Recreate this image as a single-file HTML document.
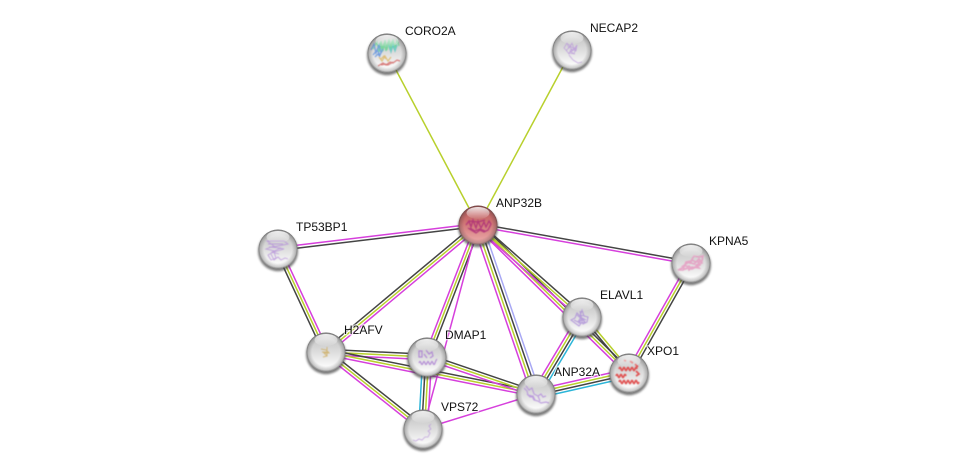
<!DOCTYPE html>
<html><head><meta charset="utf-8"><style>
html,body{margin:0;padding:0;background:#fff;width:976px;height:474px;overflow:hidden}
svg{display:block}
text{font-family:"Liberation Sans",sans-serif;font-size:12px;fill:#111;paint-order:stroke;stroke:rgba(255,255,255,.65);stroke-width:2.5px}
.e use,.e line{stroke-width:1.5;fill:none}
.s{filter:url(#sf);opacity:.8}
</style></head><body>
<svg width="976" height="474" viewBox="0 0 976 474" xmlns="http://www.w3.org/2000/svg">
<defs>
<linearGradient id="gs" x1="0" y1="0" x2="0" y2="1"><stop offset="0" stop-color="#bcbcbc"/><stop offset=".4" stop-color="#d6d6d6"/><stop offset=".88" stop-color="#fafafa"/><stop offset="1" stop-color="#fff"/></linearGradient>
<linearGradient id="rs" x1="0" y1="0" x2="0" y2="1"><stop offset="0" stop-color="#b85a5a"/><stop offset=".4" stop-color="#cc7070"/><stop offset=".88" stop-color="#e8a2a2"/><stop offset="1" stop-color="#eeb0b0"/></linearGradient>
<linearGradient id="gl" x1="0" y1="0" x2="0" y2="1"><stop offset="0" stop-color="#fff" stop-opacity=".85"/><stop offset="1" stop-color="#fff" stop-opacity=".05"/></linearGradient>
<radialGradient id="bt" cx="50%" cy="50%" r="50%"><stop offset=".72" stop-color="#303030" stop-opacity="0"/><stop offset=".92" stop-color="#303030" stop-opacity=".25"/><stop offset="1" stop-color="#303030" stop-opacity=".6"/></radialGradient>
<filter id="bl" x="-30%" y="-30%" width="160%" height="160%"><feGaussianBlur stdDeviation="1"/></filter>
<filter id="sf" x="-20%" y="-20%" width="140%" height="140%"><feGaussianBlur stdDeviation=".45"/></filter>
<g id="sh"><circle cx="0" cy="2.2" r="20" fill="#444" opacity=".7" filter="url(#bl)"/></g>
<g id="gl1"><circle r="19.5" fill="url(#bt)"/><ellipse cx="0" cy="-12" rx="11.5" ry="6" fill="url(#gl)"/></g>
<line id="a" x1="478" y1="225" x2="278" y2="249"/>
<line id="b" x1="478" y1="225" x2="691" y2="263"/>
<line id="c" x1="278" y1="249" x2="326" y2="352"/>
<line id="d" x1="478" y1="225" x2="326" y2="352"/>
<line id="f" x1="478" y1="225" x2="427" y2="357"/>
<line id="g" x1="427" y1="357" x2="423" y2="429"/>
<line id="h" x1="326" y1="352" x2="427" y2="357"/>
<line id="i" x1="326" y1="352" x2="536" y2="394"/>
<line id="j" x1="326" y1="352" x2="423" y2="429"/>
<line id="k" x1="427" y1="357" x2="536" y2="394"/>
<line id="l" x1="478" y1="225" x2="536" y2="394"/>
<line id="m" x1="478" y1="225" x2="582" y2="317"/>
<line id="r" x1="478" y1="225" x2="629" y2="373"/>
<line id="n" x1="582" y1="317" x2="629" y2="373"/>
<line id="o" x1="582" y1="317" x2="536" y2="394"/>
<line id="p" x1="536" y1="394" x2="629" y2="373"/>
<line id="q" x1="691" y1="263" x2="629" y2="373"/>
</defs>
<g class="e">
<line x1="478" y1="225" x2="387" y2="53" stroke="#b8d02c"/>
<line x1="478" y1="225" x2="572" y2="50" stroke="#b8d02c"/>
<use href="#a" x=".17" y="-1.5" stroke="#d63fdc"/><use href="#a" x="-.17" y="1.5" stroke="#444"/>
<use href="#b" x=".25" y="-1.4" stroke="#444"/><use href="#b" x="-.25" y="1.4" stroke="#d63fdc"/>
<use href="#c" x="-2.45" y="1.14" stroke="#444"/><use href="#c" stroke="#b8d02c"/><use href="#c" x="2.45" y="-1.14" stroke="#d63fdc"/>
<use href="#d" x="-1.73" y="-2.07" stroke="#444"/><use href="#d" stroke="#b8d02c"/><use href="#d" x="1.73" y="2.07" stroke="#d63fdc"/>
<use href="#f" x="-2.52" y="-.97" stroke="#d63fdc"/><use href="#f" stroke="#b8d02c"/><use href="#f" x="2.52" y=".97" stroke="#444"/>
<line x1="478" y1="225" x2="423" y2="429" stroke="#d63fdc"/>
<use href="#g" x="-4.3" y="-.2" stroke="#2bb5d8"/><use href="#g" x="-1.3" stroke="#444"/><use href="#g" x="1.6" stroke="#b8d02c"/><use href="#g" x="4.6" y=".2" stroke="#d63fdc"/>
<use href="#h" x=".13" y="-2.7" stroke="#444"/><use href="#h" stroke="#b8d02c"/><use href="#h" x="-.13" y="2.7" stroke="#d63fdc"/>
<use href="#i" x=".53" y="-2.65" stroke="#444"/><use href="#i" stroke="#b8d02c"/><use href="#i" x="-.53" y="2.65" stroke="#d63fdc"/>
<use href="#j" x="1.68" y="-2.11" stroke="#444"/><use href="#j" stroke="#b8d02c"/><use href="#j" x="-1.68" y="2.11" stroke="#d63fdc"/>
<use href="#k" x=".87" y="-2.56" stroke="#444"/><use href="#k" stroke="#b8d02c"/><use href="#k" x="-.87" y="2.56" stroke="#d63fdc"/>
<line x1="423" y1="429" x2="536" y2="394" stroke="#d63fdc"/>
<use href="#l" x="-4.35" y="1.5" stroke="#d63fdc"/><use href="#l" x="-1.51" y=".52" stroke="#b8d02c"/><use href="#l" x="1.32" y="-.46" stroke="#444"/><use href="#l" x="4.16" y="-1.43" stroke="#a8a8f4"/>
<use href="#r" x="-1.89" y="1.93" stroke="#d63fdc"/><use href="#r" stroke="#b8d02c"/><use href="#r" x="1.89" y="-1.93" stroke="#444"/>
<use href="#m" x="1.79" y="-2.02" stroke="#444"/><use href="#m" stroke="#b8d02c"/><use href="#m" x="-1.79" y="2.02" stroke="#d63fdc"/>
<use href="#n" x="2.07" y="-1.74" stroke="#b8d02c"/><use href="#n" stroke="#444"/>
<use href="#o" x="-3.6" y="-2.15" stroke="#d63fdc"/><use href="#o" x="-1.2" y="-.72" stroke="#b8d02c"/><use href="#o" x="1.2" y=".72" stroke="#444"/><use href="#o" x="3.6" y="2.15" stroke="#2bb5d8"/>
<use href="#p" x="-.92" y="-4.1" stroke="#d63fdc"/><use href="#p" x="-.31" y="-1.37" stroke="#b8d02c"/><use href="#p" x=".31" y="1.37" stroke="#444"/><use href="#p" x=".92" y="4.1" stroke="#2bb5d8"/>
<use href="#q" x="-2.35" y="-1.33" stroke="#d63fdc"/><use href="#q" stroke="#b8d02c"/><use href="#q" x="2.35" y="1.33" stroke="#444"/>
</g>

<g transform="translate(387,53)"><use href="#sh"/><circle r="19.5" fill="url(#gs)"/>
<g class="s" fill="none" stroke-width="1.2"><path d="M-14 -4l4-7 2 10 2-11 2 10 2-11 2 10 2-11 2 10 2-10 2 9 2-8 2 6M-9 -3l2-7 2 9 2-9 2 8 2-9 2 8 2-9 2 8" stroke="#62d48e"/><path d="M-16 -3l3-6 2 9 3-8 2 8M-14 2l4-5 3 5 3-6M-12 4l3-3 2 3" stroke="#5a8fe0"/><path d="M-8 4l3 4 3-5 3 5 3-4M-6 6l3-3 2 3" stroke="#dcb45e"/><path d="M-9 13l5-3 3 2 4-3 3 1 4-3 3 1M-6 12l4-1 3 1 5-3" stroke="#d2605e"/><path d="M2 -8l2 7 2-7 2 6 2-6" stroke="#50c8c0"/></g>
<use href="#gl1"/></g>

<g transform="translate(572,50)"><use href="#sh"/><circle r="19.5" fill="url(#gs)"/>
<g class="s" fill="none" stroke="#b894da" stroke-width=".8"><path d="M-8 -2l3-5 2 5 3-5 2 6 3-4-1 6-5-2-2 5-3-4zM-6 1l4-5 2 5 4-3-2 6-4-3M-4 -6l6 5-5 4 6 1M-3 5l4 5 5 3 4-1"/></g>
<use href="#gl1"/></g>

<g transform="translate(478,225)"><use href="#sh"/><circle r="19.5" fill="url(#rs)"/>
<g class="s" fill="none" stroke="#ad2a78" stroke-width="1.3"><path d="M-12 0l3-4 2 6 2-7 3 8 2-7 3 7 3-6 2 5 3-6 2 3-3 6-4 2-4-2-4 3-5-3-3-2M-9 -4l9 1 7-2M-8 3l5 3 5-2 5 2"/></g>
<use href="#gl1"/></g>

<g transform="translate(278,249)"><use href="#sh"/><circle r="19.5" fill="url(#gs)"/>
<g class="s" fill="none" stroke="#b590da" stroke-width=".9"><path d="M-11 -8h17l4 3-15 3 11 2-10 3 2 6-5 2-3-5 7-4-9-2 8-3zM-10 -5h15M-9 -2l12 1-9 4 7 2M-7 5l3 6 4-3 3 3 4-2 3 1"/></g>
<use href="#gl1"/></g>

<g transform="translate(691,263)"><use href="#sh"/><circle r="19.5" fill="url(#gs)"/>
<g class="s" fill="none" stroke="#e698c0" stroke-width="1.6"><path d="M-13 7l6-3 2-5 5-1 3-5 5 1 4-1-1 5-4 1 2 3-5 2-3 2-5-1-4 2zM-8 3l6-4 5 2 5-5 3 4-6 2 3 3-7-1-3 3-2-4zM-4 -1l3 1 2-3 4 2 2-2M-9 5l4 1 3-3 3 3 4-2"/></g>
<use href="#gl1"/></g>

<g transform="translate(582,317)"><use href="#sh"/><circle r="19.5" fill="url(#gs)"/>
<g class="s" fill="none" stroke="#ab8cd8" stroke-width="1.1"><path d="M-11 3l4-2 2-5 3 3 2-6 2 6 4 1-1 5-4 2-1-2-3 4-4-3zM-8 3l4 2 3-5 4 5-6 1 3-5 4 2M-5 -2l6 5-6 2M-2 -6l1 5 3-1"/></g>
<use href="#gl1"/></g>

<g transform="translate(629,373)"><use href="#sh"/><circle r="19.5" fill="url(#gs)"/>
<g class="s" style="opacity:.95" fill="none" stroke="#e04e4e" stroke-width="1.7"><path d="M-10 -4q1-3 2 0t2 0 2 0 2 0 2 0 2 0 2 0 2 0 2 0M-13 3q1-3 2 0t2 0 2 0 2 0 2 0M-10 9q1-3 2 0t2 0 2 0 2 0 2 0 2 0 2 0 2 0 2 0 2 0M-5 -13l2 1M1 -12l3 2M6 -9l3 3M7 -2l3 3-3 2"/></g>
<use href="#gl1"/></g>

<g transform="translate(536,394)"><use href="#sh"/><circle r="19.5" fill="url(#gs)"/>
<g class="s" fill="none" stroke="#b48edc" stroke-width="1.2"><path d="M-12 -6l3 3 1 4 4 1 2 4 4 1 3 2 5-1 3 1M-10 -8l3 4 3-2 2 6 4 2 2 5M-9 0l3 3 3-1 2 4M2 2l3-2 2 3 3-1"/></g>
<use href="#gl1"/></g>

<g transform="translate(427,357)"><use href="#sh"/><circle r="19.5" fill="url(#gs)"/>
<g class="s" fill="none" stroke="#a878d2" stroke-width="1.2"><path d="M-8 -6v6h3v-6zM-1 -7l3 4 3-2 1 4-3 2M-8 6q1-3 2 0t2 0 2 0 2 0 2 0 2 0 2 0 2 0 2-4M-3 -3l3 4"/></g>
<use href="#gl1"/></g>

<g transform="translate(326,352)"><use href="#sh"/><circle r="19.5" fill="url(#gs)"/>
<g class="s" fill="none" stroke="#cfae62" stroke-width="1"><path d="M-5 -3l5 1 3 3-5 0 3 3-4 1M1 -5v9M-4 0h7"/></g>
<use href="#gl1"/></g>

<g transform="translate(423,429)"><use href="#sh"/><circle r="19.5" fill="url(#gs)"/>
<g class="s" fill="none" stroke="#b894da" stroke-width=".8"><path d="M-10 11l3 1 3-2 3 1 3-3 3 0 2-4-2-2 3-2-2-3 2-2"/></g>
<use href="#gl1"/></g>

<text x="405" y="35">CORO2A</text>
<text x="590" y="32">NECAP2</text>
<text x="496" y="207">ANP32B</text>
<text x="296" y="231">TP53BP1</text>
<text x="709" y="245">KPNA5</text>
<text x="600" y="299">ELAVL1</text>
<text x="647" y="355">XPO1</text>
<text x="554" y="376">ANP32A</text>
<text x="445" y="339">DMAP1</text>
<text x="344" y="334">H2AFV</text>
<text x="441" y="411">VPS72</text>
</svg>
</body></html>
